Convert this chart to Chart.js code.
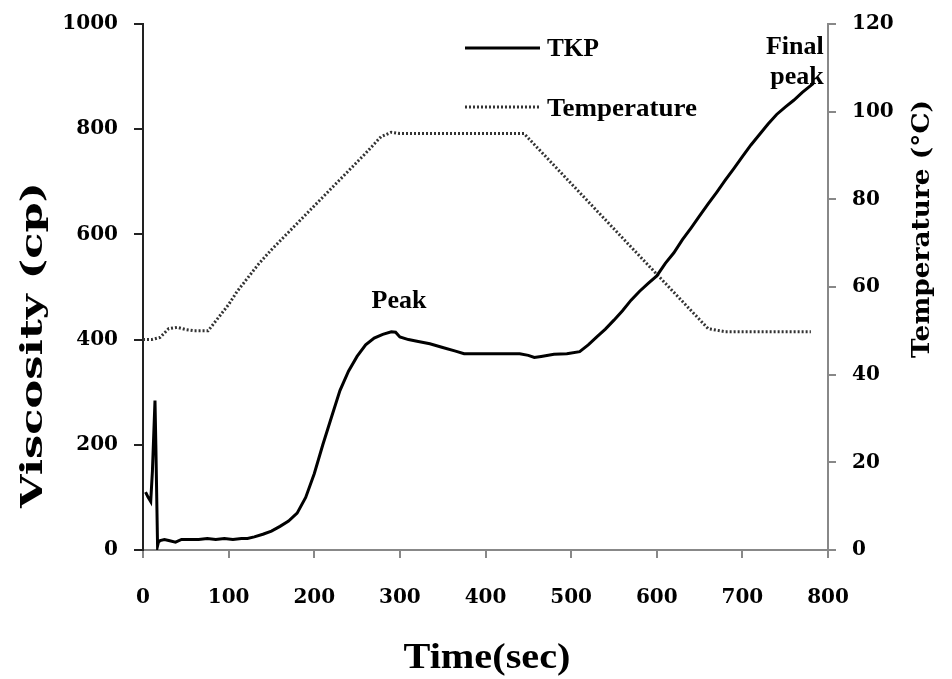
<!DOCTYPE html>
<html>
<head>
<meta charset="utf-8">
<script src="https://cdn.jsdelivr.net/npm/chart.js@4.4.0/dist/chart.umd.min.js"></script>
<style>
  html, body { margin: 0; padding: 0; background: #fff; }
</style>
</head>
<body>
<canvas id="rvaChart" width="952" height="679"></canvas>
<script>
// TKP viscosity profile (cp) against time (sec)
const tkpTime = [3, 6, 9, 11, 14, 15, 17, 18, 20, 25, 30, 38, 45, 55, 65, 75, 85, 95, 105, 115, 122,
  130, 140, 150, 160, 170, 180, 190, 200, 210, 220, 230, 240, 250, 260, 270, 280, 290, 295, 300,
  310, 320, 335, 350, 365, 375, 390, 405, 420, 440, 450, 457, 465, 480, 495, 510, 520, 530, 540,
  550, 560, 570, 580, 590, 600, 610, 620, 630, 640, 650, 660, 670, 680, 690, 700, 710, 720, 730,
  740, 750, 760, 770, 783];
const tkpViscosity = [110, 100, 92, 150, 284, 200, 8, 15, 18, 20, 18, 15, 20, 20, 20, 22, 20, 22, 20, 22, 22,
  25, 30, 36, 45, 55, 70, 100, 145, 200, 252, 303, 340, 368, 390, 403, 410, 415, 414, 405,
  400, 397, 392, 385, 378, 373, 373, 373, 373, 373, 370, 366, 368, 372, 373, 377, 390, 405, 420,
  437, 455, 475, 492, 507, 521, 545, 565, 590, 612, 635, 658, 680, 703, 725, 748, 770, 790, 810,
  828, 842, 855, 870, 887];

// Temperature programme (°C) against time (sec)
const tempTime = [0, 10, 20, 25, 30, 40, 50, 60, 76, 90, 100, 110, 120, 134, 150, 170, 200, 230, 260, 278,
  290, 300, 445, 660, 680, 780];
const tempValue = [48, 48, 48.5, 49.5, 50.5, 50.8, 50.3, 50, 50, 53.5, 56, 59, 61.5, 65, 68.5, 72.5, 78.5,
  84.5, 90.5, 94.3, 95.3, 95, 95, 50.5, 49.8, 49.8];

const timeTicks = [0, 800, 100];      // min, max, step
const viscTicks = [0, 1000, 200];
const tempTicks = [0, 120, 20];

const seriesNames = ['TKP', 'Temperature'];

const toPoints = (xs, ys) => xs.map((x, i) => ({ x, y: ys[i] }));
const plain = v => String(v);

const tickFont = { family: 'DejaVu Serif', size: 20, weight: 'bold', lineHeight: 0.8 };

// legend, annotations and axis titles painted on the canvas
const overlay = {
  id: 'overlay',
  afterDraw(chart) {
    const { ctx, scales } = chart;
    const x = scales.x, y = scales.y;
    ctx.save();
    ctx.fillStyle = '#000';

    // stretched text helper
    function stretched(text, cx, cy, font, width, angle) {
      ctx.save();
      ctx.font = font;
      ctx.translate(cx, cy);
      if (angle) ctx.rotate(angle);
      const w = ctx.measureText(text).width;
      ctx.scale(width / w, 1);
      ctx.textAlign = 'center';
      ctx.textBaseline = 'middle';
      ctx.fillText(text, 0, 0);
      ctx.restore();
    }

    // legend
    ctx.lineWidth = 3;
    ctx.strokeStyle = '#000';
    ctx.beginPath(); ctx.moveTo(465, 48); ctx.lineTo(540, 48); ctx.stroke();
    ctx.strokeStyle = '#333';
    ctx.setLineDash([2, 2]);
    ctx.beginPath(); ctx.moveTo(465, 107); ctx.lineTo(540, 107); ctx.stroke();
    ctx.setLineDash([]);
    stretched(seriesNames[0], 573, 49, 'bold 26px "Liberation Serif"', 52);
    stretched(seriesNames[1], 622, 109, 'bold 26px "Liberation Serif"', 150);

    // annotations
    ctx.font = 'bold 26px "Liberation Serif"';
    ctx.textAlign = 'center';
    ctx.textBaseline = 'middle';
    ctx.fillText('Peak', x.getPixelForValue(299), y.getPixelForValue(473));
    ctx.textAlign = 'right';
    ctx.fillText('Final', x.getPixelForValue(795), y.getPixelForValue(955));
    ctx.fillText('peak', x.getPixelForValue(795), y.getPixelForValue(898));

    // axis titles
    stretched('Time(sec)', 487, 659, 'bold 35px "Liberation Serif"', 167);
    stretched('Viscosity (cp)', 34, 345, 'bold 30px "DejaVu Serif"', 326, -Math.PI / 2);
    stretched('Temperature (°C)', 922, 229, 'bold 25px "DejaVu Serif"', 258, -Math.PI / 2);
    ctx.restore();
  }
};

new Chart(document.getElementById('rvaChart'), {
  type: 'scatter',
  data: {
    datasets: [
      {
        label: seriesNames[0],
        data: toPoints(tkpTime, tkpViscosity),
        showLine: true,
        borderColor: '#000',
        borderWidth: 3,
        pointRadius: 0,
        tension: 0,
        yAxisID: 'y'
      },
      {
        label: seriesNames[1],
        data: toPoints(tempTime, tempValue),
        showLine: true,
        borderColor: '#333',
        borderWidth: 3,
        borderDash: [2, 2],
        pointRadius: 0,
        tension: 0,
        yAxisID: 'y2'
      }
    ]
  },
  options: {
    responsive: false,
    animation: false,
    layout: { padding: { top: 22, left: 0, right: 0, bottom: 0 } },
    plugins: { legend: { display: false }, tooltip: { enabled: false } },
    scales: {
      x: {
        type: 'linear',
        min: timeTicks[0], max: timeTicks[1],
        ticks: { stepSize: timeTicks[2], font: tickFont, color: '#000', padding: 32, callback: plain },
        grid: { drawOnChartArea: false, tickLength: 8, color: '#888', lineWidth: 2 },
        border: { color: '#888', width: 2 },
        afterFit: s => { s.height = 129; }
      },
      y: {
        position: 'left',
        min: viscTicks[0], max: viscTicks[1],
        ticks: { stepSize: viscTicks[2], font: tickFont, color: '#000', padding: 16, callback: plain },
        grid: { drawOnChartArea: false, tickLength: 9, color: '#222', lineWidth: 2 },
        border: { color: '#222', width: 2 },
        afterFit: s => { s.width = 143; }
      },
      y2: {
        position: 'right',
        min: tempTicks[0], max: tempTicks[1],
        ticks: { stepSize: tempTicks[2], font: tickFont, color: '#000', padding: 16, callback: plain },
        grid: { drawOnChartArea: false, tickLength: 8, color: '#888', lineWidth: 2 },
        border: { color: '#888', width: 2 },
        afterFit: s => { s.width = 124; }
      }
    }
  },
  plugins: [overlay]
});
</script>
</body>
</html>
